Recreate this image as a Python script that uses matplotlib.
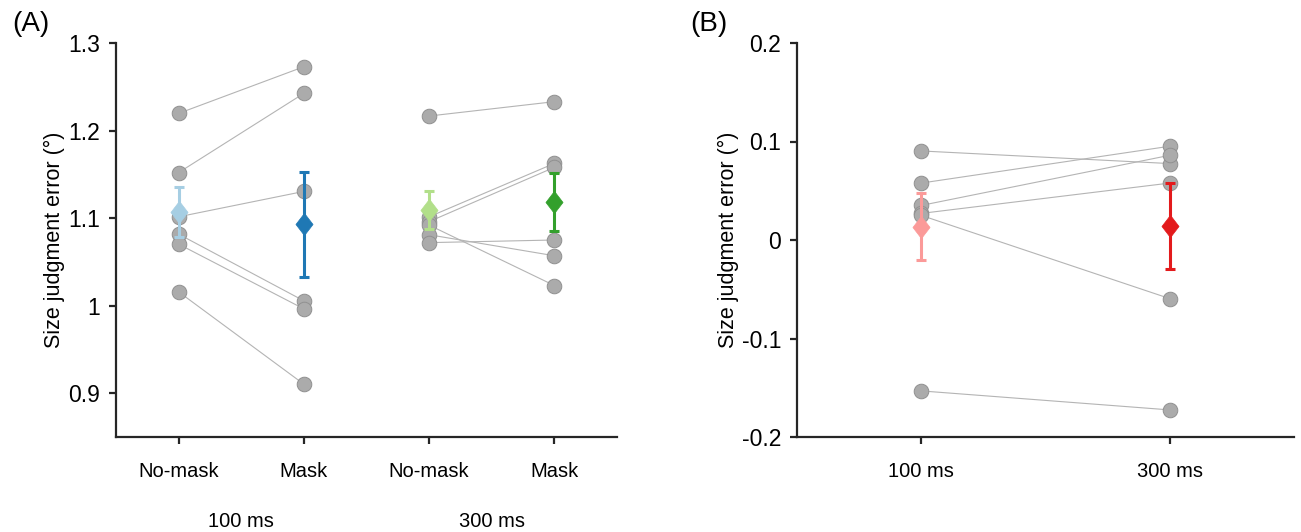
import matplotlib
matplotlib.use("Agg")
import matplotlib.pyplot as plt
import matplotlib.transforms as mtransforms
from matplotlib.path import Path

plt.rcParams['font.family'] = ['Liberation Sans', 'DejaVu Sans']

# panel A: per-participant values (deg)
nomask_100 = [1.2196, 1.152, 1.1015, 1.0817, 1.0703, 1.0158]
mask_100 = [1.2729, 1.2425, 1.1305, 1.0055, 0.9963, 0.9103]
nomask_300 = [1.2166, 1.1015, 1.096, 1.092, 1.081, 1.072]
mask_300 = [1.233, 1.1625, 1.158, 1.023, 1.057, 1.075]

# panel A: group mean and SEM
a_means = [1.107, 1.093, 1.109, 1.118]
a_sems = [0.029, 0.060, 0.022, 0.033]
a_colors = ['#a6cee3', '#1f78b4', '#b2df8a', '#33a02c']
a_ticklabels = ['No-mask', 'Mask', 'No-mask', 'Mask']
a_groups = ['100 ms', '300 ms']

# panel B: mask effect per participant
b_100 = [0.0904, 0.0578, 0.0351, 0.027, 0.025, -0.1532]
b_300 = [0.0776, 0.0952, 0.086, 0.0578, -0.0595, -0.1725]
b_means = [0.0137, 0.0141]
b_sems = [0.034, 0.044]
b_colors = ['#fb9a99', '#e31a1c']
b_ticklabels = ['100 ms', '300 ms']

GRAY = '#ababab'
LINE = '#b4b4b4'
EDGE = '#909090'
SPINE = '#262626'

# slightly tall diamond for the means
DIAMOND = Path([(0, -1), (0.77, 0), (0, 1), (-0.77, 0), (0, -1)],
               [Path.MOVETO, Path.LINETO, Path.LINETO, Path.LINETO, Path.CLOSEPOLY])


def style(ax):
    for s in ['top', 'right']:
        ax.spines[s].set_visible(False)
    for s in ['left', 'bottom']:
        ax.spines[s].set_linewidth(1.6)
        ax.spines[s].set_color(SPINE)
    ax.tick_params(axis='both', width=1.6, length=5, color=SPINE)
    ax.tick_params(axis='x', pad=13, labelsize=14.5)
    ax.tick_params(axis='y', pad=6.5, labelsize=16.5)
    ax.set_ylabel('Size judgment error (°)', fontsize=15.5, labelpad=2)


def paired(ax, x0, x1, left, right):
    for a, b in zip(left, right):
        ax.plot([x0, x1], [a, b], color=LINE, lw=0.8, zorder=1)
    ax.plot([x0] * len(left), left, 'o', ms=10.5, mfc=GRAY, mec=EDGE, mew=0.7, zorder=2)
    ax.plot([x1] * len(right), right, 'o', ms=10.5, mfc=GRAY, mec=EDGE, mew=0.7, zorder=2)


def means(ax, xs, m, e, colors):
    for x, mv, ev, c in zip(xs, m, e, colors):
        ax.errorbar(x, mv, yerr=ev, fmt='none', ecolor=c,
                    elinewidth=2.2, capsize=3.5, capthick=2.2, zorder=3)
        ax.plot(x, mv, marker=DIAMOND, ms=16, mfc=c, mec=c, mew=0.5, ls='none', zorder=4)


fig = plt.figure(figsize=(13.01, 5.32), dpi=100)
axA = fig.add_axes([116 / 1301, 95 / 532, 501 / 1301, 394 / 532])
axB = fig.add_axes([797 / 1301, 95 / 532, 497 / 1301, 394 / 532])

paired(axA, 1, 2, nomask_100, mask_100)
paired(axA, 3, 4, nomask_300, mask_300)
means(axA, [1, 2, 3, 4], a_means, a_sems, a_colors)
axA.set_xlim(0.5, 4.5)
axA.set_ylim(0.85, 1.3)
axA.set_yticks([0.9, 1.0, 1.1, 1.2, 1.3])
axA.set_yticklabels(['0.9', '1', '1.1', '1.2', '1.3'])
axA.set_xticks([1, 2, 3, 4])
axA.set_xticklabels(a_ticklabels)
style(axA)
trans = mtransforms.blended_transform_factory(axA.transData, axA.transAxes)
for x, g in zip([1.5, 3.5], a_groups):
    axA.text(x, -0.215, g, transform=trans, ha='center', va='center', fontsize=14.5)

paired(axB, 1, 2, b_100, b_300)
means(axB, [1, 2], b_means, b_sems, b_colors)
axB.set_xlim(0.5, 2.5)
axB.set_ylim(-0.2, 0.2)
axB.set_yticks([-0.2, -0.1, 0, 0.1, 0.2])
axB.set_yticklabels(['-0.2', '-0.1', '0', '0.1', '0.2'])
axB.set_xticks([1, 2])
axB.set_xticklabels(b_ticklabels)
style(axB)

fig.text(12 / 1301, 1 - 24 / 532, '(A)', fontsize=20, va='center', ha='left')
fig.text(690 / 1301, 1 - 24 / 532, '(B)', fontsize=20, va='center', ha='left')

fig.savefig('out.png', dpi=100)
